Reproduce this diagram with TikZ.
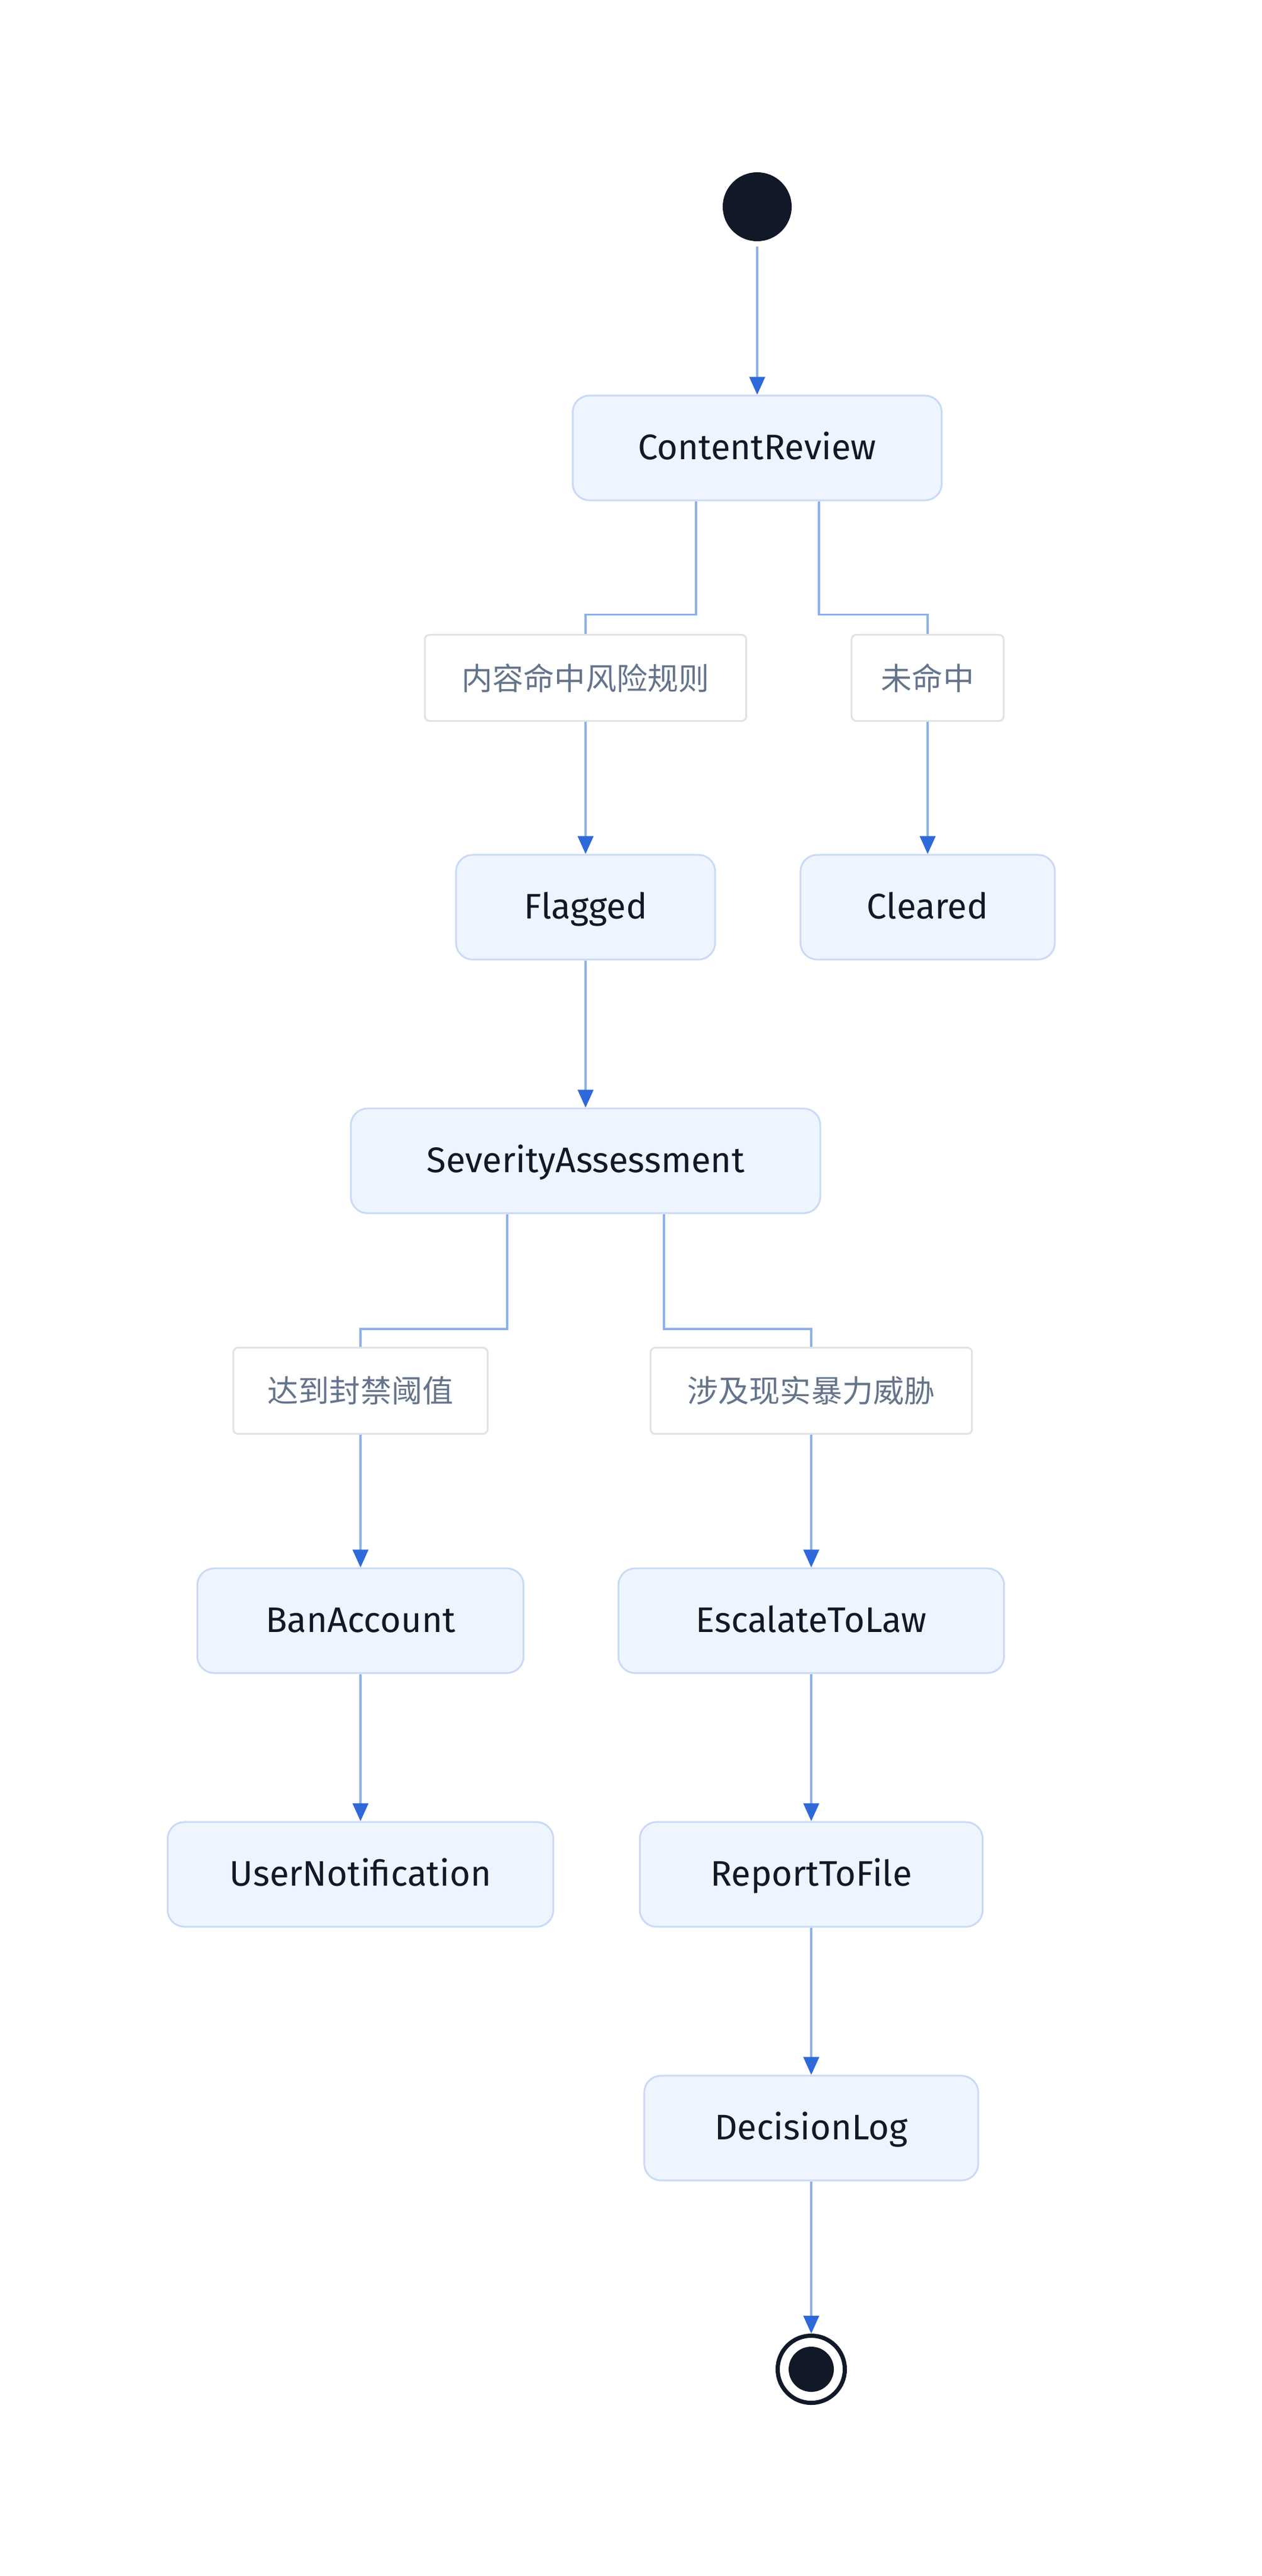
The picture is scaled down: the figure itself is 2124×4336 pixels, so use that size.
\documentclass[tikz,border=0pt]{standalone}
\usepackage{fontspec}
\setmainfont{Fira Sans}
\newfontfamily\cjk{Noto Sans CJK SC}
\usetikzlibrary{arrows.meta,calc}
\definecolor{statefill}{HTML}{EFF5FE}
\definecolor{stateborder}{HTML}{C9DAF5}
\definecolor{statetext}{HTML}{111827}
\definecolor{labelborder}{HTML}{E2E2E2}
\definecolor{labeltext}{HTML}{64748B}
\definecolor{edgeline}{HTML}{8EB1EC}
\definecolor{edgehead}{HTML}{2F69D9}
\definecolor{darkdot}{HTML}{111827}
\begin{document}
\begin{tikzpicture}[x=0.01cm,y=-0.01cm,
  state/.style={draw=stateborder, fill=statefill, line width=0.85pt, rounded corners=0.28cm,
    minimum height=1.76cm, inner sep=0pt, text height=1.1em, text depth=0pt,
    text=statetext, font=\fontsize{17}{20}\selectfont},
  guard/.style={draw=labelborder, fill=white, line width=0.85pt, rounded corners=0.08cm,
    minimum height=1.45cm, inner sep=0pt, text=labeltext, font=\cjk\fontsize{14.8}{18}\selectfont},
  edge/.style={draw=edgeline, line width=1.1pt},
  arr/.style={edge, -{Triangle[length=0.3cm,width=0.26cm,color=edgehead]}},
]
\useasboundingbox (0,0) rectangle (2124,4336);
\node[circle, fill=darkdot, minimum size=1.16cm, inner sep=0pt] (start) at (1275,348) {};
\node[state, minimum width=6.21cm] (cr) at (1275,754) {ContentReview};
\node[guard, minimum width=5.41cm] (g1) at (986,1141) {内容命中风险规则};
\node[guard, minimum width=2.56cm] (g2) at (1562,1141) {未命中};
\node[state, minimum width=4.36cm] (fl) at (986,1527) {Flagged};
\node[state, minimum width=4.28cm] (cl) at (1562,1527) {Cleared};
\node[state, minimum width=7.90cm] (sa) at (986,1954) {SeverityAssessment};
\node[guard, minimum width=4.28cm] (g3) at (607,2341) {达到封禁阈值};
\node[guard, minimum width=5.41cm] (g4) at (1366,2341) {涉及现实暴力威胁};
\node[state, minimum width=5.49cm] (ba) at (607,2728) {BanAccount};
\node[state, minimum width=6.49cm] (el) at (1366,2728) {EscalateToLaw};
\node[state, minimum width=6.49cm] (un) at (607,3155) {UserNotification};
\node[state, minimum width=5.77cm] (rf) at (1366,3155) {ReportToFile};
\node[state, minimum width=5.62cm] (dl) at (1366,3582) {DecisionLog};
\node[circle, draw=darkdot, line width=2pt, minimum size=1.13cm, inner sep=0pt] (end) at (1366,3988) {};
\node[circle, fill=darkdot, minimum size=0.76cm, inner sep=0pt] (endin) at (end) {};

\draw[arr, shorten <=0.08cm] (start) -- (cr);
\draw[edge] ([xshift=-1.03cm]cr.south) -- ++(0,191) -| (g1.north);
\draw[edge] ([xshift=1.04cm]cr.south) -- ++(0,191) -| (g2.north);
\draw[arr] (g1) -- (fl);
\draw[arr] (g2) -- (cl);
\draw[arr] (fl) -- (sa);
\draw[edge] ([xshift=-1.32cm]sa.south) -- ++(0,193) -| (g3.north);
\draw[edge] ([xshift=1.32cm]sa.south) -- ++(0,193) -| (g4.north);
\draw[arr] (g3) -- (ba);
\draw[arr] (g4) -- (el);
\draw[arr] (ba) -- (un);
\draw[arr] (el) -- (rf);
\draw[arr] (rf) -- (dl);
\draw[arr] (dl) -- (end);
\end{tikzpicture}
\end{document}
